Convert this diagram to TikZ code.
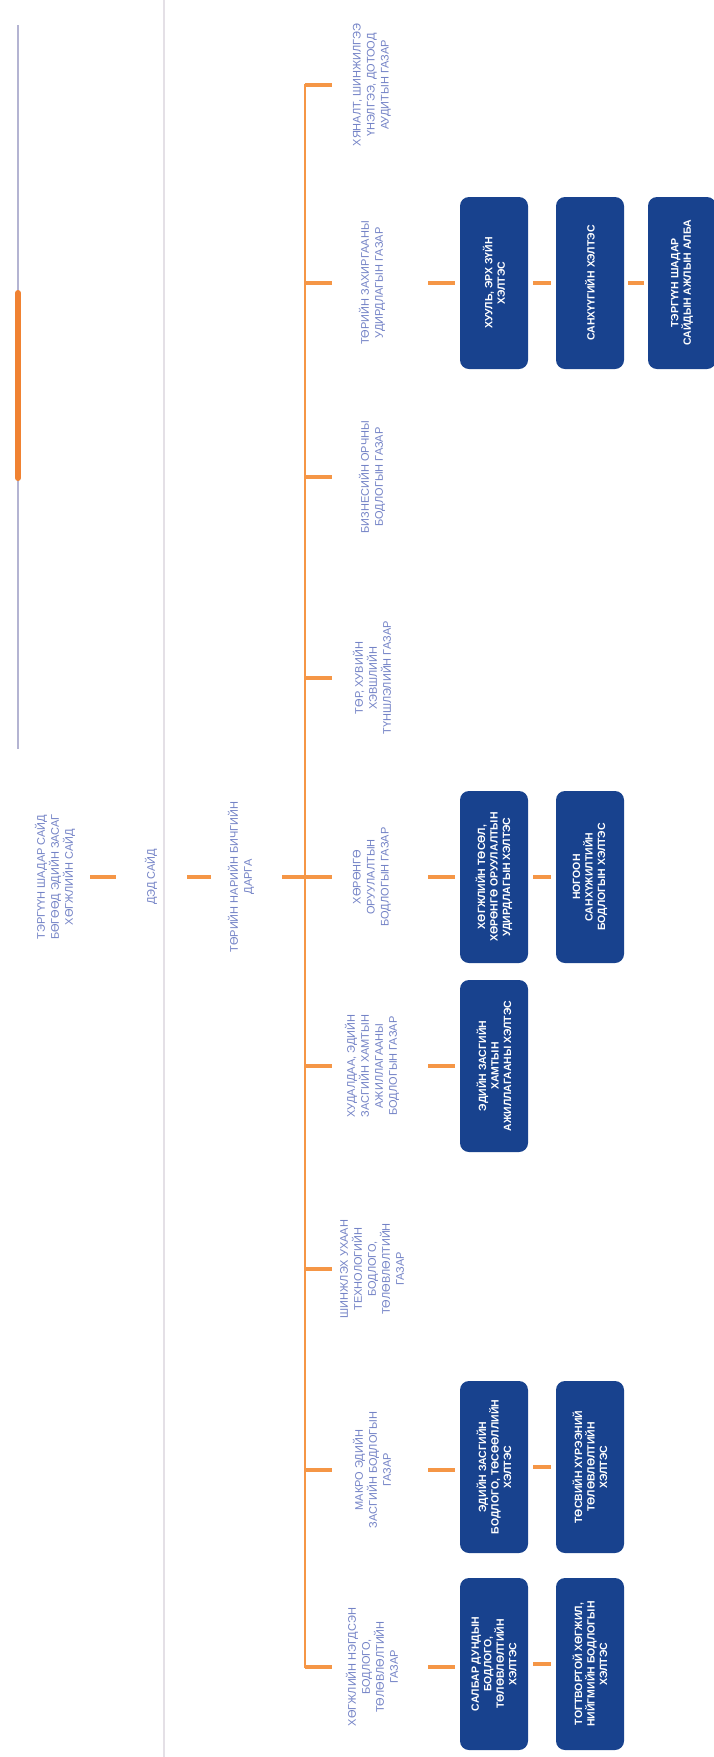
\documentclass[tikz,border=0pt]{standalone}
\usepackage{fontspec}
\setmainfont{Liberation Sans}
\usetikzlibrary{calc}
\definecolor{org}{RGB}{245,150,70}
\definecolor{navy}{RGB}{24,66,142}
\definecolor{lbl}{RGB}{115,130,198}
\definecolor{gline}{RGB}{180,180,210}
\definecolor{pline}{RGB}{228,224,230}
\definecolor{oseg}{RGB}{240,130,50}
\begin{document}
\begin{tikzpicture}[x=1pt,y=-1pt,
  dept/.style={rotate=90, align=center, text=lbl, font=\fontsize{11}{14}\selectfont, inner sep=0pt},
  unit/.style={rotate=90, fill=navy, rounded corners=9pt, minimum width=172pt, minimum height=68pt, align=center, text=white, font=\bfseries\fontsize{10.5}{12.5}\selectfont, inner sep=2pt},
  conn/.style={draw=org, line width=3.2pt},
  spine/.style={draw=org, line width=2.6pt, line cap=rect},
]
\useasboundingbox (0,0) rectangle (714,1757);
\fill[white] (0,0) rectangle (714,1757);
% page artefacts
\draw[pline, line width=2pt] (164,0) -- (164,1757);
\draw[gline, line width=1.3pt] (18,25) -- (18,749);
\draw[oseg, line width=6pt, line cap=round] (18,293) -- (18,478);
% spine
\foreach \n/\y in {1/85,2/283,3/477,4/678,5/877,6/1066,7/1269,8/1470,9/1667}
  \coordinate (s\n) at (305,\y);
\draw[spine] (s1) -- (s9);
% departments
\node[dept] (d1) at (372,85) {ХЯНАЛТ, ШИНЖИЛГЭЭ\\ҮНЭЛГЭЭ, ДОТООД\\АУДИТЫН ГАЗАР};
\node[dept] (d2) at (372,283) {ТӨРИЙН ЗАХИРГААНЫ\\УДИРДЛАГЫН ГАЗАР};
\node[dept] (d3) at (372,477) {БИЗНЕСИЙН ОРЧНЫ\\БОДЛОГЫН ГАЗАР};
\node[dept] (d4) at (372,678) {ТӨР, ХУВИЙН\\ХЭВШЛИЙН\\ТҮНШЛЭЛИЙН ГАЗАР};
\node[dept] (d5) at (372,877) {ХӨРӨНГӨ\\ОРУУЛАЛТЫН\\БОДЛОГЫН ГАЗАР};
\node[dept] (d6) at (372,1066) {ХУДАЛДАА, ЭДИЙН\\ЗАСГИЙН ХАМТЫН\\АЖИЛЛАГААНЫ\\БОДЛОГЫН ГАЗАР};
\node[dept] (d7) at (372,1269) {ШИНЖЛЭХ УХААН\\ТЕХНОЛОГИЙН\\БОДЛОГО,\\ТӨЛӨВЛӨЛТИЙН\\ГАЗАР};
\node[dept] (d8) at (372,1470) {МАКРО ЭДИЙН\\ЗАСГИЙН БОДЛОГЫН\\ГАЗАР};
\node[dept] (d9) at (372,1667) {ХӨГЖЛИЙН НЭГДСЭН\\БОДЛОГО,\\ТӨЛӨВЛӨЛТИЙН\\ГАЗАР};
\foreach \n in {1,...,9}
  \draw[conn, shorten >=40pt] (s\n) -- (d\n.center);
% top chain
\node[dept] (T) at (55,877) {ТЭРГҮҮН ШАДАР САЙД\\БӨГӨӨД ЭДИЙН ЗАСАГ\\ХӨГЖЛИЙН САЙД};
\node[dept] (D) at (151,877) {ДЭД САЙД};
\node[dept] (N) at (241,877) {ТӨРИЙН НАРИЙН БИЧГИЙН\\ДАРГА};
\draw[conn, shorten <=35pt, shorten >=35pt] (T.center) -- (D.center);
\draw[conn, shorten <=36pt, shorten >=30pt] (D.center) -- (N.center);
\draw[conn, shorten <=41pt] (N.center) -- (s5);
% units
\node[unit] (b21) at (494,283) {ХУУЛЬ, ЭРХ ЗҮЙН\\ХЭЛТЭС};
\node[unit] (b22) at (590,283) {САНХҮҮГИЙН ХЭЛТЭС};
\node[unit] (b23) at (682,283) {ТЭРГҮҮН ШАДАР\\САЙДЫН АЖЛЫН АЛБА};
\node[unit] (b51) at (494,877) {ХӨГЖЛИЙН ТӨСӨЛ,\\ХӨРӨНГӨ ОРУУЛАЛТЫН\\УДИРДЛАГЫН ХЭЛТЭС};
\node[unit] (b52) at (590,877) {НОГООН\\САНХҮЖИЛТИЙН\\БОДЛОГЫН ХЭЛТЭС};
\node[unit] (b61) at (494,1066) {ЭДИЙН ЗАСГИЙН\\ХАМТЫН\\АЖИЛЛАГААНЫ ХЭЛТЭС};
\node[unit] (b81) at (494,1467) {ЭДИЙН ЗАСГИЙН\\БОДЛОГО, ТӨСӨӨЛЛИЙН\\ХЭЛТЭС};
\node[unit] (b82) at (590,1467) {ТӨСВИЙН ХҮРЭЭНИЙ\\ТӨЛӨВЛӨЛТИЙН\\ХЭЛТЭС};
\node[unit] (b91) at (494,1664) {САЛБАР ДУНДЫН\\БОДЛОГО,\\ТӨЛӨВЛӨЛТИЙН\\ХЭЛТЭС};
\node[unit] (b92) at (590,1664) {ТОГТВОРТОЙ ХӨГЖИЛ,\\НИЙГМИЙН БОДЛОГЫН\\ХЭЛТЭС};
% unit connectors
\foreach \d/\b in {d2/b21,d5/b51,d6/b61,d8/b81,d9/b91}
  \draw[conn, shorten <=56pt, shorten >=39pt] (\d.center) -- (\d.center -| \b.center);
\foreach \a/\b in {b21/b22,b51/b52,b81/b82,b91/b92}
  \draw[conn, shorten <=39pt, shorten >=39pt] (\a.center) -- (\b.center);
\draw[conn, shorten <=38pt, shorten >=38pt] (b22.center) -- (b23.center);
\end{tikzpicture}
\end{document}
